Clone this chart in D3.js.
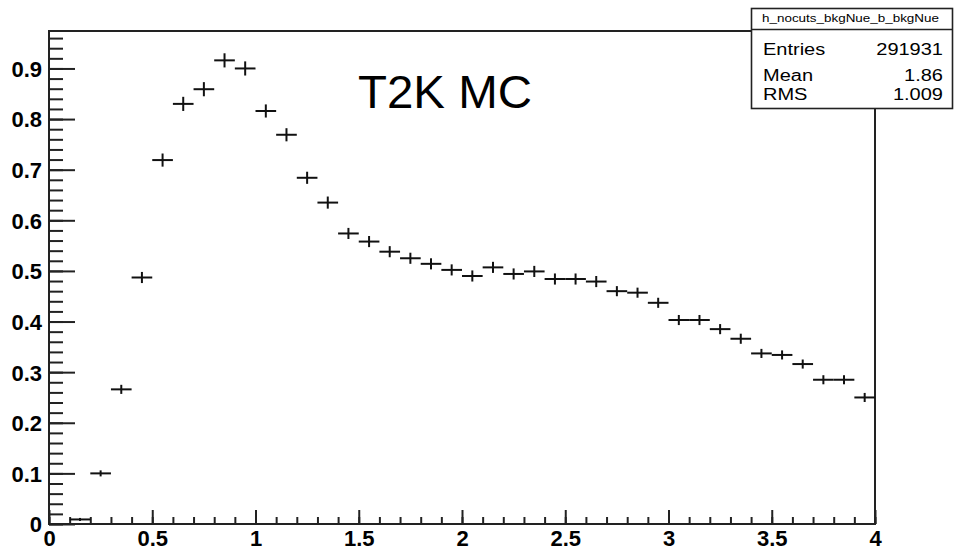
<!DOCTYPE html>
<html>
<head>
<meta charset="utf-8">
<script src="https://cdn.jsdelivr.net/npm/d3@7"></script>
<style>
  body { margin: 0; background: #fff; }
  svg { display: block; font-family: "Liberation Sans", Arial, Helvetica, sans-serif; }
</style>
</head>
<body>
<svg id="hist" width="954" height="550"></svg>
<script>
const width = 954;
const height = 550;
const frame = { left: 49, right: 875, top: 31, bottom: 524 };

// bin edges 0..4 in steps of 0.1, one value per bin (null = empty bin)
const binLow = [0.0, 0.1, 0.2, 0.3, 0.4, 0.5, 0.6, 0.7, 0.8, 0.9,
                1.0, 1.1, 1.2, 1.3, 1.4, 1.5, 1.6, 1.7, 1.8, 1.9,
                2.0, 2.1, 2.2, 2.3, 2.4, 2.5, 2.6, 2.7, 2.8, 2.9,
                3.0, 3.1, 3.2, 3.3, 3.4, 3.5, 3.6, 3.7, 3.8, 3.9];
const binValues = [null, 0.009, 0.100, 0.266, 0.487, 0.719, 0.830, 0.859, 0.916, 0.900,
                   0.816, 0.769, 0.684, 0.635, 0.574, 0.558, 0.538, 0.525, 0.514, 0.502,
                   0.490, 0.507, 0.494, 0.499, 0.484, 0.484, 0.479, 0.460, 0.457, 0.437,
                   0.403, 0.403, 0.385, 0.366, 0.337, 0.334, 0.316, 0.285, 0.285, 0.250];
const binErrors = [0, 0.001, 0.004, 0.007, 0.009, 0.011, 0.012, 0.012, 0.012, 0.012,
                   0.011, 0.011, 0.010, 0.010, 0.009, 0.009, 0.009, 0.009, 0.009, 0.009,
                   0.009, 0.009, 0.009, 0.009, 0.009, 0.009, 0.009, 0.008, 0.008, 0.008,
                   0.008, 0.008, 0.008, 0.008, 0.007, 0.007, 0.007, 0.007, 0.007, 0.007];
const binWidth = 0.1;

const xMajor = [0, 0.5, 1, 1.5, 2, 2.5, 3, 3.5, 4];
const yMajor = [0, 0.1, 0.2, 0.3, 0.4, 0.5, 0.6, 0.7, 0.8, 0.9];

const histName = "h_nocuts_bkgNue_b_bkgNue";
const statLabels = ["Entries", "Mean", "RMS"];
const statValues = ["291931", "1.86", "1.009"];
const watermark = "T2K MC";

const svg = d3.select("#hist");

const x = d3.scaleLinear().domain([0, 4]).range([frame.left, frame.right]);
const y = d3.scaleLinear().domain([0, 0.974]).range([frame.bottom, frame.top]);

const data = binLow.map((lo, i) => ({ lo: lo, hi: lo + binWidth, v: binValues[i], e: binErrors[i] }))
    .filter(d => d.v !== null);

// frame box
svg.append("rect")
    .attr("x", frame.left)
    .attr("y", frame.top)
    .attr("width", frame.right - frame.left)
    .attr("height", frame.bottom - frame.top)
    .attr("fill", "none")
    .attr("stroke", "#222")
    .attr("stroke-width", 2);

// x axis minor ticks
svg.append("g")
    .attr("transform", `translate(0,${frame.bottom})`)
    .call(d3.axisBottom(x).ticks(40).tickSize(-7).tickFormat(""))
    .call(g => g.select(".domain").remove())
    .selectAll("line").attr("stroke", "#222").attr("stroke-width", 2);

// x axis major ticks + labels
svg.append("g")
    .attr("transform", `translate(0,${frame.bottom})`)
    .call(d3.axisBottom(x).tickValues(xMajor).tickSize(-14).tickPadding(6).tickFormat(d3.format("~g")))
    .call(g => g.select(".domain").remove())
    .call(g => g.selectAll("line").attr("stroke", "#222").attr("stroke-width", 2))
    .call(g => g.selectAll("text")
        .attr("fill", "#000")
        .style("font-size", "22px")
        .style("font-weight", "bold"));

// y axis minor ticks
svg.append("g")
    .attr("transform", `translate(${frame.left},0)`)
    .call(d3.axisLeft(y).ticks(48).tickSize(-14).tickFormat(""))
    .call(g => g.select(".domain").remove())
    .selectAll("line").attr("stroke", "#222").attr("stroke-width", 2);

// y axis major ticks + labels
svg.append("g")
    .attr("transform", `translate(${frame.left},0)`)
    .call(d3.axisLeft(y).tickValues(yMajor).tickSize(-26).tickPadding(7)
        .tickFormat(d => d === 0 ? "0" : d3.format(".1f")(d)))
    .call(g => g.select(".domain").remove())
    .call(g => g.selectAll("line").attr("stroke", "#222").attr("stroke-width", 2))
    .call(g => g.selectAll("text")
        .attr("fill", "#000")
        .attr("dy", "0.36em")
        .style("font-size", "22px")
        .style("font-weight", "bold"));

// histogram points with error bars
const pts = svg.append("g").attr("stroke", "#111").attr("stroke-width", 2);

pts.selectAll("line.h")
    .data(data)
    .enter()
    .append("line")
        .attr("class", "h")
        .attr("x1", d => x(d.lo))
        .attr("x2", d => x(d.hi))
        .attr("y1", d => y(d.v))
        .attr("y2", d => y(d.v));

pts.selectAll("line.v")
    .data(data)
    .enter()
    .append("line")
        .attr("class", "v")
        .attr("x1", d => x(d.lo + binWidth / 2))
        .attr("x2", d => x(d.lo + binWidth / 2))
        .attr("y1", d => y(d.v - d.e) + 1)
        .attr("y2", d => y(d.v + d.e) - 1);

// watermark
svg.append("text")
    .attr("x", 358)
    .attr("y", 108)
    .attr("textLength", 174)
    .attr("lengthAdjust", "spacingAndGlyphs")
    .style("font-size", "46px")
    .style("fill", "#000")
    .text(watermark);

// stats box
const stats = svg.append("g");
stats.append("rect")
    .attr("x", 751.5)
    .attr("y", 8.5)
    .attr("width", 201)
    .attr("height", 100)
    .attr("fill", "#fff")
    .attr("stroke", "#222")
    .attr("stroke-width", 1.6);

stats.append("line")
    .attr("x1", 751.5).attr("x2", 952.5)
    .attr("y1", 29.5).attr("y2", 29.5)
    .attr("stroke", "#222")
    .attr("stroke-width", 1.4);

stats.append("text")
    .attr("x", 762)
    .attr("y", 22)
    .attr("textLength", 177)
    .attr("lengthAdjust", "spacingAndGlyphs")
    .style("font-size", "10px")
    .style("fill", "#000")
    .text(histName);

const rowBase = [55, 81, 100];
statLabels.forEach((lab, i) => {
    stats.append("text")
        .attr("transform", `translate(763,${rowBase[i]}) scale(1.25,1)`)
        .style("font-size", "16px")
        .style("fill", "#000")
        .text(lab);
    stats.append("text")
        .attr("transform", `translate(943,${rowBase[i]}) scale(1.25,1)`)
        .attr("text-anchor", "end")
        .style("font-size", "16px")
        .style("fill", "#000")
        .text(statValues[i]);
});
</script>
</body>
</html>
